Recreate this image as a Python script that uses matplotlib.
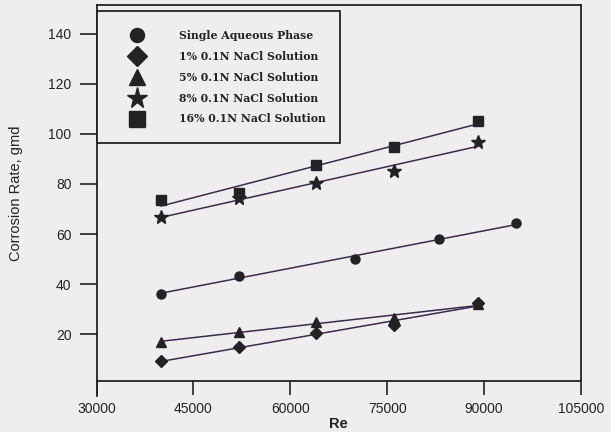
import numpy as np
import matplotlib
matplotlib.use("Agg")
import matplotlib.pyplot as plt

# Reynolds numbers
re_single = [40000, 52000, 70000, 83000, 95000]
re_emulsion = [40000, 52000, 64000, 76000, 89000]

# corrosion rate, gmd
rate_single = [36.3, 43.4, 49.9, 58.0, 64.3]
rate_1pct = [9.4, 14.8, 20.4, 23.7, 32.4]
rate_5pct = [17.0, 21.0, 25.0, 26.5, 32.0]
rate_8pct = [66.9, 74.2, 80.4, 85.2, 96.6]
rate_16pct = [73.5, 76.2, 87.5, 94.6, 105.0]

labels = [
    "Single Aqueous Phase",
    "1% 0.1N NaCl Solution",
    "5% 0.1N NaCl Solution",
    "8% 0.1N NaCl Solution",
    "16% 0.1N NaCl Solution",
]

x_ticks = [30000, 45000, 60000, 75000, 90000, 105000]
y_ticks = [20, 40, 60, 80, 100, 120, 140]

bg = "#eeeef1"
ink = "#232323"
line_col = "#3c2c4c"

fig = plt.figure(figsize=(6.11, 4.32), dpi=100, facecolor=bg)
ax = fig.add_axes([0.158, 0.118, 0.793, 0.870])
ax.set_facecolor(bg)

series = [
    (re_single, rate_single, "o", 6.5),
    (re_emulsion, rate_1pct, "D", 6.5),
    (re_emulsion, rate_5pct, "^", 7.5),
    (re_emulsion, rate_8pct, "*", 10),
    (re_emulsion, rate_16pct, "s", 7),
]

handles = []
for (xs, ys, mk, ms), lab in zip(series, labels):
    xs = np.array(xs, dtype=float)
    ys = np.array(ys, dtype=float)
    # linear trend line between first and last Re
    k, b = np.polyfit(xs, ys, 1)
    xl = np.array([xs[0], xs[-1]])
    ax.plot(xl, k * xl + b, color=line_col, lw=1.1, zorder=2)
    h, = ax.plot(xs, ys, linestyle="none", marker=mk, markersize=ms,
                 color=ink, markeredgecolor=ink, label=lab, zorder=3)
    handles.append(h)

ax.set_xlim(30000, 105000)
ax.set_ylim(1.4, 151.3)
ax.set_xticks(x_ticks)
ax.set_yticks(y_ticks)
ax.tick_params(axis="x", direction="out", length=10, width=1.2, pad=5,
               labelsize=10, colors=ink)
ax.tick_params(axis="y", direction="out", length=12, width=1.2, pad=6,
               labelsize=10, colors=ink)
for lab in ax.get_xticklabels() + ax.get_yticklabels():
    lab.set_family("Liberation Sans")

for side in ["left", "right", "top", "bottom"]:
    ax.spines[side].set_color(ink)
    ax.spines[side].set_linewidth(1.3)
ax.spines["left"].set_bounds(-4.5, 151.3)

ax.set_xlabel("Re", fontsize=10.5, fontweight="bold", family="Liberation Sans",
              color=ink, labelpad=1)
ax.set_ylabel("Corrosion Rate, gmd", fontsize=10.5, family="Liberation Sans",
              color=ink, labelpad=18)

leg = ax.legend(handles=handles, loc="upper left",
                bbox_to_anchor=(0.0, 0.5, 0.502, 0.484), mode="expand",
                borderaxespad=0, frameon=True, fancybox=False,
                prop={"family": "DejaVu Serif", "weight": "bold", "size": 7.8},
                markerscale=1.55, borderpad=1.7, labelspacing=0.92,
                handlelength=4.0, handletextpad=1.9)
leg.get_frame().set_edgecolor(ink)
leg.get_frame().set_linewidth(1.3)
leg.get_frame().set_facecolor(bg)
leg.get_frame().set_alpha(1)
for t in leg.get_texts():
    t.set_color(ink)

fig.savefig("out.png", dpi=100, facecolor=bg)
